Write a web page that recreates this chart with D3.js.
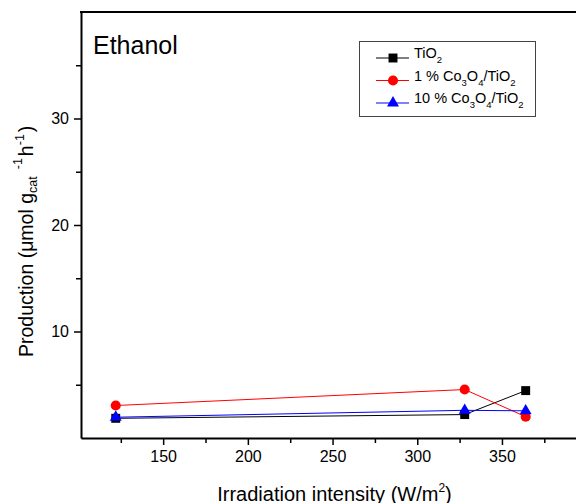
<!DOCTYPE html>
<html>
<head>
<meta charset="utf-8">
<script src="https://cdn.jsdelivr.net/npm/d3@7"></script>
<style>
  body { margin: 0; background: #fff; }
  svg { font-family: "Liberation Sans", Arial, Helvetica, sans-serif; display: block; }
</style>
</head>
<body>
<div id="chart"></div>
<script>
const xValues = [122, 328, 364];
const tio2 = [1.85, 2.2, 4.45];
const co1 = [3.05, 4.55, 2.0];
const co10 = [1.95, 2.6, 2.55];
const xMajor = [150, 200, 250, 300, 350];
const xMinor = [125, 175, 225, 275, 325, 375];
const yMajor = [10, 20, 30];
const yMinor = [5, 15, 25, 35];

const series = [
  { name: "TiO2", values: tio2, color: "#000", shape: d3.symbolSquare, size: 80 },
  { name: "1 % Co3O4/TiO2", values: co1, color: "#ff0000", shape: d3.symbolCircle, size: 80 },
  { name: "10 % Co3O4/TiO2", values: co10, color: "#0000ff", shape: d3.symbolTriangle, size: 62 }
];

const svg = d3.select("#chart")
  .append("svg")
  .attr("width", 576)
  .attr("height", 503);

const x = d3.scaleLinear()
  .domain([101.5, 410])
  .range([81, 81 + (410 - 101.5) * 1.694]);

const y = d3.scaleLinear()
  .domain([0, 40])
  .range([438, 12]);

// minor ticks first
svg.append("g")
  .attr("transform", "translate(0,438)")
  .call(d3.axisBottom(x).tickValues(xMinor).tickSize(5).tickFormat(""))
  .call(g => g.select(".domain").remove())
  .selectAll("line").attr("stroke-width", 1.5);

svg.append("g")
  .attr("transform", "translate(81,0)")
  .call(d3.axisLeft(y).tickValues(yMinor).tickSize(5).tickFormat(""))
  .call(g => g.select(".domain").remove())
  .selectAll("line").attr("stroke-width", 1.5);

const xAxis = svg.append("g")
  .attr("transform", "translate(0,438)")
  .call(d3.axisBottom(x).tickValues(xMajor).tickSize(7).tickSizeOuter(0).tickPadding(6));
xAxis.select(".domain").attr("stroke-width", 2);
xAxis.selectAll("line").attr("stroke-width", 1.5);
xAxis.selectAll("text").attr("font-size", 16).attr("font-family", "Liberation Sans, Arial, sans-serif").attr("fill", "#000");

const yAxis = svg.append("g")
  .attr("transform", "translate(81,0)")
  .call(d3.axisLeft(y).tickValues(yMajor).tickSize(7).tickSizeOuter(0).tickPadding(5));
yAxis.select(".domain").attr("stroke-width", 2);
yAxis.selectAll("line").attr("stroke-width", 1.5);
yAxis.selectAll("text").attr("font-size", 16).attr("font-family", "Liberation Sans, Arial, sans-serif").attr("fill", "#000");

// top frame line
svg.append("line")
  .attr("x1", 80).attr("x2", 576)
  .attr("y1", y(40)).attr("y2", y(40))
  .attr("stroke", "#000").attr("stroke-width", 2);

const line = d3.line()
  .x((d, i) => x(xValues[i]))
  .y(d => y(d));

series.forEach(s => {
  svg.append("path")
    .datum(s.values)
    .attr("fill", "none")
    .attr("stroke", s.color)
    .attr("stroke-width", 1)
    .attr("d", line);
});

series.forEach(s => {
  svg.selectAll(null)
    .data(s.values)
    .enter()
    .append("path")
      .attr("transform", (d, i) => "translate(" + x(xValues[i]) + "," + y(d) + ")")
      .attr("d", d3.symbol().type(s.shape).size(s.size))
      .attr("fill", s.color);
});

// title
svg.append("text")
  .attr("x", 93).attr("y", 53.5)
  .attr("font-size", 25)
  .text("Ethanol");

// legend
const legend = svg.append("g");
legend.append("rect")
  .attr("x", 359.5).attr("y", 41.5)
  .attr("width", 176).attr("height", 75)
  .attr("fill", "#fff").attr("stroke", "#444").attr("stroke-width", 1);

const legendLabels = [
  [["TiO", 0], ["2", 1]],
  [["1 % Co", 0], ["3", 1], ["O", 0], ["4", 1], ["/TiO", 0], ["2", 1]],
  [["10 % Co", 0], ["3", 1], ["O", 0], ["4", 1], ["/TiO", 0], ["2", 1]]
];

series.forEach((s, i) => {
  const ly = 58 + i * 22.5;
  legend.append("line")
    .attr("x1", 376).attr("x2", 409)
    .attr("y1", ly).attr("y2", ly)
    .attr("stroke", s.color).attr("stroke-width", 1);
  legend.append("path")
    .attr("transform", "translate(393," + ly + ")")
    .attr("d", d3.symbol().type(s.shape).size(s.size))
    .attr("fill", s.color);
  const t = legend.append("text")
    .attr("x", 414).attr("y", ly + 5)
    .attr("font-size", 14.5);
  legendLabels[i].forEach(p => {
    if (p[1]) {
      t.append("tspan").attr("font-size", 9.5).attr("dy", 5).text(p[0]);
    } else {
      t.append("tspan").attr("dy", t.selectAll("tspan").size() ? -5 : 0).text(p[0]);
    }
  });
});

// x axis title
const xt = svg.append("text")
  .attr("x", 334.5).attr("y", 500.5)
  .attr("text-anchor", "middle")
  .attr("font-size", 20);
xt.append("tspan").text("Irradiation intensity (W/m");
xt.append("tspan").attr("font-size", 12).attr("dy", -9).text("2");
xt.append("tspan").attr("dy", 9).text(")");

// y axis title
const yt = svg.append("text")
  .attr("transform", "translate(32.5,357) rotate(-90)")
  .attr("font-size", 19.5);
yt.append("tspan").text("Production (\u03bcmol g");
yt.append("tspan").attr("font-size", 12.5).attr("dy", 4).text("cat");
yt.append("tspan").attr("font-size", 12.5).attr("dy", -15).attr("dx", 7).text("-1");
yt.append("tspan").attr("dy", 11).attr("dx", 2).text("h");
yt.append("tspan").attr("font-size", 12.5).attr("dy", -9).text("-1");
yt.append("tspan").attr("dy", 9).attr("dx", 2).text(")");
</script>
</body>
</html>
